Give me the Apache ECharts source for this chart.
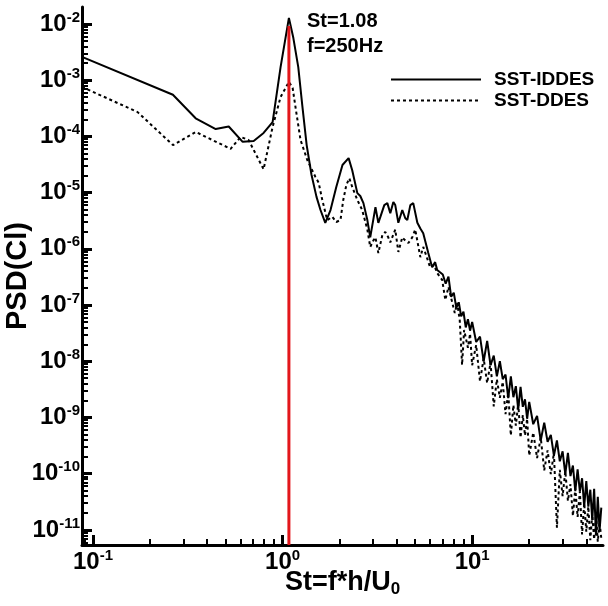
<!DOCTYPE html>
<html><head><meta charset="utf-8">
<script src="https://cdn.jsdelivr.net/npm/echarts@6/dist/echarts.min.js"></script>
<style>html,body{margin:0;padding:0;background:#fff}#c{width:608px;height:606px}</style>
</head><body><div id="c"></div>
<script>
// ---- data (St = f*h/U0, PSD of Cl) ----
const iddesSt = [0.0875,0.264,0.348,0.444,0.52,0.616,0.704,0.794,0.886,0.976,1.08,1.14,1.21,1.27,1.34,1.42,1.51,1.585,1.68,1.79,1.92,2.07,2.23,2.33,2.48,2.57,2.67,2.80,2.90,3.09,3.20,3.28,3.44,3.57,3.70,3.84,3.93,4.08,4.28,4.44,4.55,4.72,4.89,5.14,5.33,5.52,5.87,6.15,6.38,6.54,
 7.0,7.25,7.5,7.75,8.0,8.25,8.5,8.75,9.0,9.25,9.5,9.75,10,10.5,11,11.5,12,12.5,13,13.5,14,14.5,15,15.5,16,16.5,17,17.5,18,18.5,19,19.5,20,21,22,23,24,25,26,27,28,29,30,31,32,33,34,35,36,37,38,39,40,41,42,43,44,45,46,47,48];
const iddesPsd = [2.6e-3,5.5e-4,2.1e-4,1.35e-4,1.5e-4,8.0e-5,8.3e-5,1.15e-4,1.8e-4,1.7e-3,1.28e-2,5.6e-3,1.7e-3,3.6e-4,7.0e-5,2.1e-5,8.4e-6,4.9e-6,2.9e-6,4.9e-6,1.26e-5,3.1e-5,4.1e-5,2.5e-5,9.8e-6,8.7e-6,6.5e-6,3.25e-6,1.6e-6,5.5e-6,2.9e-6,3.7e-6,6.0e-6,6.5e-6,4.3e-6,6.8e-6,6.0e-6,2.9e-6,4.9e-6,3.5e-6,3.25e-6,6.0e-6,6.5e-6,2.9e-6,2.3e-6,1.9e-6,8.4e-7,4.7e-7,5.8e-7,4.2e-7,
 3.5e-7,2.4e-7,3.2e-7,1.4e-7,1.66e-7,8.9e-8,1.12e-7,6.3e-8,7.6e-8,4.0e-8,5.6e-8,3.5e-8,5.0e-8,2.2e-8,2.75e-8,1.0e-8,2.3e-8,8.5e-9,1.26e-8,5.4e-9,1.0e-8,4.8e-9,5.8e-9,2.2e-9,5.4e-9,2.3e-9,3.6e-9,1.4e-9,3.5e-9,1.55e-9,2.1e-9,9.5e-10,1.9e-9,7.6e-10,1.07e-9,3.9e-10,8.1e-10,3.7e-10,4.9e-10,2.1e-10,3.9e-10,1.66e-10,2.5e-10,9.8e-11,2.35e-10,9.1e-11,1.4e-10,4.9e-11,1.2e-10,4.8e-11,8.3e-11,2.6e-11,7.4e-11,2.6e-11,5.2e-11,1.5e-11,5.4e-11,8e-12,3.9e-11,9.8e-12,2.5e-11];

const ddesSt = [0.0875,0.172,0.264,0.348,0.532,0.601,0.662,0.794,0.886,0.976,1.08,1.13,1.17,1.244,1.35,1.49,1.55,1.62,1.72,1.83,1.92,2.02,2.09,2.17,2.25,2.33,2.48,2.63,2.80,2.90,3.01,3.09,3.20,3.36,3.48,3.61,3.70,3.93,4.08,4.28,4.44,4.61,4.83,5.01,5.33,5.52,5.71,6.0,6.30,6.54,6.95,7.22,7.5,8.1,8.34,8.6,8.85,9.07,
 9.5,9.75,10,10.5,11,11.5,12,12.5,13,13.5,14,14.5,15,15.5,16,16.5,17,17.5,18,18.5,19,19.5,20,21,22,23,24,25,26,27,28,29,30,31,32,33,34,35,36,37,38,39,40,41,42,43,44,45,46,47,48];
const ddesPsd = [7.6e-4,2.7e-4,7.0e-5,1.2e-4,6.0e-5,9.8e-5,8.6e-5,2.6e-5,1.47e-4,5.0e-4,9.3e-4,7.3e-4,3.3e-4,8.6e-5,3.8e-5,1.9e-5,1.5e-5,7.4e-6,3.25e-6,3.7e-6,3.0e-6,3.25e-6,7.4e-6,1.37e-5,1.8e-5,1.26e-5,7.4e-6,4.9e-6,2.2e-6,1.08e-6,1.4e-6,1.6e-6,8.4e-7,1.76e-6,2.0e-6,1.6e-6,1.3e-6,2.2e-6,8.8e-7,1.6e-6,1.4e-6,1.27e-6,1.6e-6,2.2e-6,7.1e-7,1.08e-6,7.8e-7,4.7e-7,5.15e-7,3.7e-7,2.8e-7,1.23e-7,2.1e-7,7.2e-8,1.09e-7,5.4e-8,8.6e-9,3.6e-8,
 1.74e-8,3.1e-8,8.5e-9,1.95e-8,4.4e-9,1.12e-8,4.1e-9,9.5e-9,1.58e-9,4.8e-9,2.24e-9,4.3e-9,1.15e-9,2.75e-9,4.8e-10,1.66e-9,7.2e-10,1.78e-9,4.4e-10,1.1e-9,4.8e-10,9.5e-10,2.1e-10,5.4e-10,1.9e-10,4.4e-10,1.15e-10,2.6e-10,9.8e-11,2.35e-10,1.1e-11,1.17e-10,4.0e-11,1.1e-10,3.3e-11,6.5e-11,1.78e-11,5.5e-11,1.7e-11,4.8e-11,8.3e-12,3.0e-11,9.3e-12,2.6e-11,6.6e-12,1.9e-11,6.8e-12,1.9e-11,6.2e-12,1.4e-11,7e-12];

const peakSt = 1.08;          // red marker line
const peakLineTop = 9.2e-3;
const xRange = [0.0875, 49];
const yRange = [5.4e-12, 2.0e-2];
const xTickExps = [-1, 0, 1];
const yTickExps = [-11, -10, -9, -8, -7, -6, -5, -4, -3, -2];
const seriesNames = ['SST-IDDES', 'SST-DDES'];
const annotation = 'St=1.08\nf=250Hz';

// ---- chart ----
const F = '"Liberation Sans", Arial, Helvetica, sans-serif';
const L = Math.log10;
const pts = (xs, ys) => xs.map((x, i) => [L(x), L(ys[i])]);
const xMin = L(xRange[0]), xMax = L(xRange[1]), yMin = L(yRange[0]), yMax = L(yRange[1]);
function minor(lo, hi) {
  const out = [];
  for (let n = Math.floor(lo) - 1; n <= Math.ceil(hi); n++)
    for (let m = 2; m <= 9; m++) { const v = n + L(m); if (v > lo + 1e-9 && v < hi - 1e-9) out.push(v); }
  return out;
}
const rect = { left: 82, right: 5, top: 7, bottom: 61, containLabel: false, outerBoundsMode: 'none' };
const lblRich = {
  b: { fontSize: 24, fontWeight: 'bold', fontFamily: F, color: '#000' },
  s: { fontSize: 15, fontWeight: 'bold', fontFamily: F, color: '#000', padding: [0, 0, 13, 0] }
};
const fmt = v => '{b|10}{s|' + Math.round(v) + '}';
const chart = echarts.init(document.getElementById('c'), null, { renderer: 'canvas' });
chart.setOption({
  animation: false,
  backgroundColor: '#fff',
  grid: [Object.assign({}, rect), Object.assign({}, rect)],
  xAxis: [
    { type: 'value', gridIndex: 0, min: xMin, max: xMax, position: 'bottom',
      axisLine: { show: true, onZero: false, lineStyle: { color: '#000', width: 3 } },
      axisTick: { show: true, inside: true, length: 10, customValues: xTickExps, lineStyle: { color: '#000', width: 3 } },
      axisLabel: { customValues: xTickExps, formatter: fmt, margin: 3, rich: lblRich },
      splitLine: { show: false },
      name: '{a|St=f*h/U}{c|0}', nameLocation: 'middle', nameGap: 22, nameMoveOverlap: false,
      nameTextStyle: { rich: {
        a: { fontSize: 27, fontWeight: 'bold', fontFamily: F, color: '#000' },
        c: { fontSize: 17, fontWeight: 'bold', fontFamily: F, color: '#000', padding: [14, 0, 0, 0] } } } },
    { type: 'value', gridIndex: 1, min: xMin, max: xMax, position: 'bottom',
      axisLine: { show: false, onZero: false },
      axisTick: { show: true, inside: true, length: 6, customValues: minor(xMin, xMax), lineStyle: { color: '#000', width: 2 } },
      axisLabel: { show: false }, splitLine: { show: false } }
  ],
  yAxis: [
    { type: 'value', gridIndex: 0, min: yMin, max: yMax, position: 'left',
      axisLine: { show: true, onZero: false, lineStyle: { color: '#000', width: 3 } },
      axisTick: { show: true, inside: true, length: 10, customValues: yTickExps, lineStyle: { color: '#000', width: 3 } },
      axisLabel: { customValues: yTickExps, formatter: fmt, margin: 2, rich: lblRich },
      splitLine: { show: false },
      name: 'PSD(Cl)', nameLocation: 'middle', nameGap: 50, nameMoveOverlap: false,
      nameTextStyle: { fontSize: 29, fontWeight: 'bold', fontFamily: F, color: '#000' } },
    { type: 'value', gridIndex: 1, min: yMin, max: yMax, position: 'left',
      axisLine: { show: false, onZero: false },
      axisTick: { show: true, inside: true, length: 6, customValues: minor(yMin, yMax), lineStyle: { color: '#000', width: 2 } },
      axisLabel: { show: false }, splitLine: { show: false } }
  ],
  legend: {
    data: seriesNames, orient: 'vertical', left: 385, top: 65, itemWidth: 90, itemHeight: 22, itemGap: 2,
    itemStyle: { opacity: 0 },
    textStyle: { fontSize: 19, fontWeight: 'bold', fontFamily: F, color: '#000', padding: [0, 0, 0, 8] }
  },
  graphic: [{ type: 'text', left: 307, top: 9, style: { text: annotation, font: 'bold 20px ' + F, lineHeight: 25, fill: '#000' } }],
  series: [
    { name: seriesNames[1], type: 'line', xAxisIndex: 0, yAxisIndex: 0, data: pts(ddesSt, ddesPsd), symbol: 'none', clip: true,
      lineStyle: { color: '#000', width: 2, type: [3, 3] }, itemStyle: { color: '#000' } },
    { name: seriesNames[0], type: 'line', xAxisIndex: 0, yAxisIndex: 0, data: pts(iddesSt, iddesPsd), symbol: 'none', clip: true,
      lineStyle: { color: '#000', width: 2, type: 'solid' }, itemStyle: { color: '#000' } },
    { name: 'peak', type: 'line', xAxisIndex: 0, yAxisIndex: 0, data: [[L(peakSt), yMin], [L(peakSt), L(peakLineTop)]], symbol: 'none',
      lineStyle: { color: '#e3161b', width: 3 }, itemStyle: { color: '#e3161b' } }
  ]
});
</script></body></html>
